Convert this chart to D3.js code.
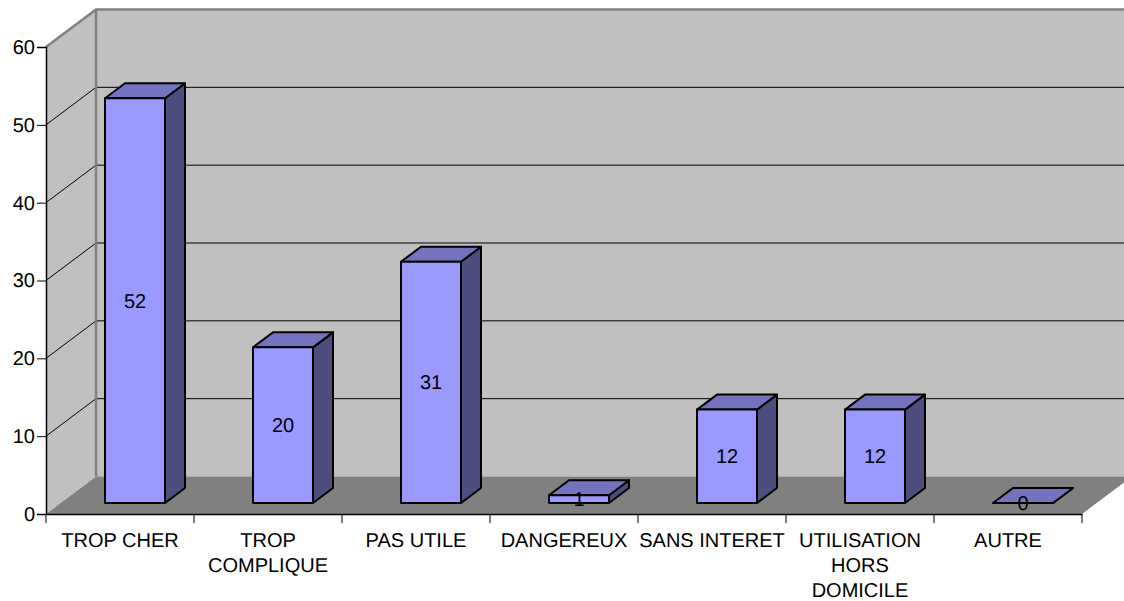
<!DOCTYPE html>
<html lang="en">
<head>
<meta charset="UTF-8">
<title>Chart</title>
<script src="https://cdn.jsdelivr.net/npm/d3@7"></script>
<style>
  html, body { margin: 0; padding: 0; background: #fff; overflow: hidden; }
  svg { display: block; }
  text { font-family: "Liberation Sans", Arial, sans-serif; font-size: 20px; fill: #000; text-rendering: geometricPrecision; }
  .axis path, .axis line { stroke: #000; }
</style>
</head>
<body>
<svg width="1124" height="601"></svg>
<script>
var categories = ["TROP CHER", "TROP COMPLIQUE", "PAS UTILE", "DANGEREUX", "SANS INTERET", "UTILISATION HORS DOMICILE", "AUTRE"];
var labelLines = [["TROP CHER"], ["TROP", "COMPLIQUE"], ["PAS UTILE"], ["DANGEREUX"], ["SANS INTERET"], ["UTILISATION", "HORS", "DOMICILE"], ["AUTRE"]];
var values = [52, 20, 31, 1, 12, 12, 0];
var yTicks = [0, 10, 20, 30, 40, 50, 60];

var svg = d3.select("svg");

var x = d3.scaleBand().domain(categories).range([46, 1082]);
var y = d3.scaleLinear().domain([0, 60]).range([514, 47]);

// depth of the 3d box, and of each bar inside it
var depth = { dx: 50, dy: -37.5 };
var barDepth = { dx: 20, dy: -15 };
var barShift = { dx: 15, dy: -11 };
var barWidth = 60;

var x0 = x.range()[0], x1 = x.range()[1];
var wallRight = x1 + depth.dx;

function pts(a) { return a.map(function(p) { return p.join(","); }).join(" "); }

// walls and floor
svg.append("polygon")
    .attr("points", pts([[x0 + depth.dx, y(60) + depth.dy], [wallRight, y(60) + depth.dy], [wallRight, y(0) + depth.dy], [x0 + depth.dx, y(0) + depth.dy]]))
    .attr("fill", "#c0c0c0");
svg.append("polygon")
    .attr("points", pts([[x0, y(60)], [x0 + depth.dx, y(60) + depth.dy], [x0 + depth.dx, y(0) + depth.dy], [x0, y(0)]]))
    .attr("fill", "#c0c0c0");
svg.append("polygon")
    .attr("points", pts([[x0, y(0)], [x0 + depth.dx, y(0) + depth.dy], [wallRight, y(0) + depth.dy], [x1, y(0)]]))
    .attr("fill", "#808080");

// grid lines on both walls
var grid = svg.append("g").attr("stroke", "#000").attr("stroke-width", 1).attr("fill", "none");
grid.selectAll("polyline").data(yTicks.slice(1, -1)).enter().append("polyline")
    .attr("points", function(d) {
      return pts([[x0, y(d)], [x0 + depth.dx, y(d) + depth.dy], [wallRight, y(d) + depth.dy]]);
    });

// wall edges
svg.append("polyline")
    .attr("points", pts([[x0, y(60)], [x0 + depth.dx, y(60) + depth.dy], [wallRight, y(60) + depth.dy]]))
    .attr("fill", "none").attr("stroke", "#808080").attr("stroke-width", 2.5);
svg.append("line")
    .attr("x1", x0 + depth.dx).attr("x2", x0 + depth.dx)
    .attr("y1", y(60) + depth.dy).attr("y2", y(0) + depth.dy)
    .attr("stroke", "#808080").attr("stroke-width", 2.5);

// bars
var bars = svg.selectAll(".bar").data(values).enter().append("g").attr("class", "bar")
    .attr("stroke", "#000").attr("stroke-width", 2).attr("stroke-linejoin", "round");

function barLeft(d, i) { return x(categories[i]) + x.bandwidth() / 2 + barShift.dx - barWidth / 2; }
function barBase() { return y(0) + barShift.dy; }
function barTop(d) { return y(d) + barShift.dy; }

bars.append("polygon").attr("fill", "#4d4d80").attr("points", function(d, i) {
  var l = barLeft(d, i) + barWidth;
  return pts([[l, barTop(d)], [l + barDepth.dx, barTop(d) + barDepth.dy], [l + barDepth.dx, barBase() + barDepth.dy], [l, barBase()]]);
});
bars.append("polygon").attr("fill", "#7373bf").attr("points", function(d, i) {
  var l = barLeft(d, i);
  return pts([[l, barTop(d)], [l + barDepth.dx, barTop(d) + barDepth.dy], [l + barWidth + barDepth.dx, barTop(d) + barDepth.dy], [l + barWidth, barTop(d)]]);
});
bars.append("rect").attr("fill", "#9999ff")
    .attr("x", barLeft)
    .attr("y", barTop)
    .attr("width", barWidth)
    .attr("height", function(d) { return barBase() - barTop(d); });

// value labels
svg.selectAll(".val").data(values).enter().append("text").attr("class", "val")
    .attr("text-anchor", "middle")
    .attr("dy", "0.35em")
    .attr("x", function(d, i) { return barLeft(d, i) + barWidth / 2; })
    .attr("y", function(d) { return (barTop(d) + barBase()) / 2; })
    .text(function(d) { return d; });

// axes
var yAxis = d3.axisLeft(y).tickValues(yTicks).tickSize(9).tickPadding(2).tickFormat(d3.format("d"));
var gy = svg.append("g").attr("class", "axis").attr("transform", "translate(" + x0 + ",0)").call(yAxis);
gy.selectAll("text").style("font-size", "20px").style("font-family", "'Liberation Sans', Arial, sans-serif");
gy.select(".domain").attr("stroke-width", 1.5);

var xAxis = d3.axisBottom(x).tickSize(0).tickFormat("");
var gx = svg.append("g").attr("class", "axis").attr("transform", "translate(0," + y(0) + ")").call(xAxis);
gx.select(".domain").attr("stroke-width", 1.5);

// ticks between categories
svg.append("g").attr("stroke", "#000").selectAll("line")
    .data(categories.concat(["end"])).enter().append("line")
    .attr("x1", function(d, i) { return x0 + i * x.step(); })
    .attr("x2", function(d, i) { return x0 + i * x.step(); })
    .attr("y1", y(0)).attr("y2", y(0) + 9);

// category labels
var lab = svg.selectAll(".cat").data(labelLines).enter().append("text").attr("class", "cat")
    .attr("text-anchor", "middle")
    .attr("transform", function(d, i) { return "translate(" + (x(categories[i]) + x.bandwidth() / 2) + ",546.5)"; });
lab.selectAll("tspan").data(function(d) { return d; }).enter().append("tspan")
    .attr("x", 0)
    .attr("y", function(d, i) { return i * 25; })
    .text(function(d) { return d; });
</script>
</body>
</html>
